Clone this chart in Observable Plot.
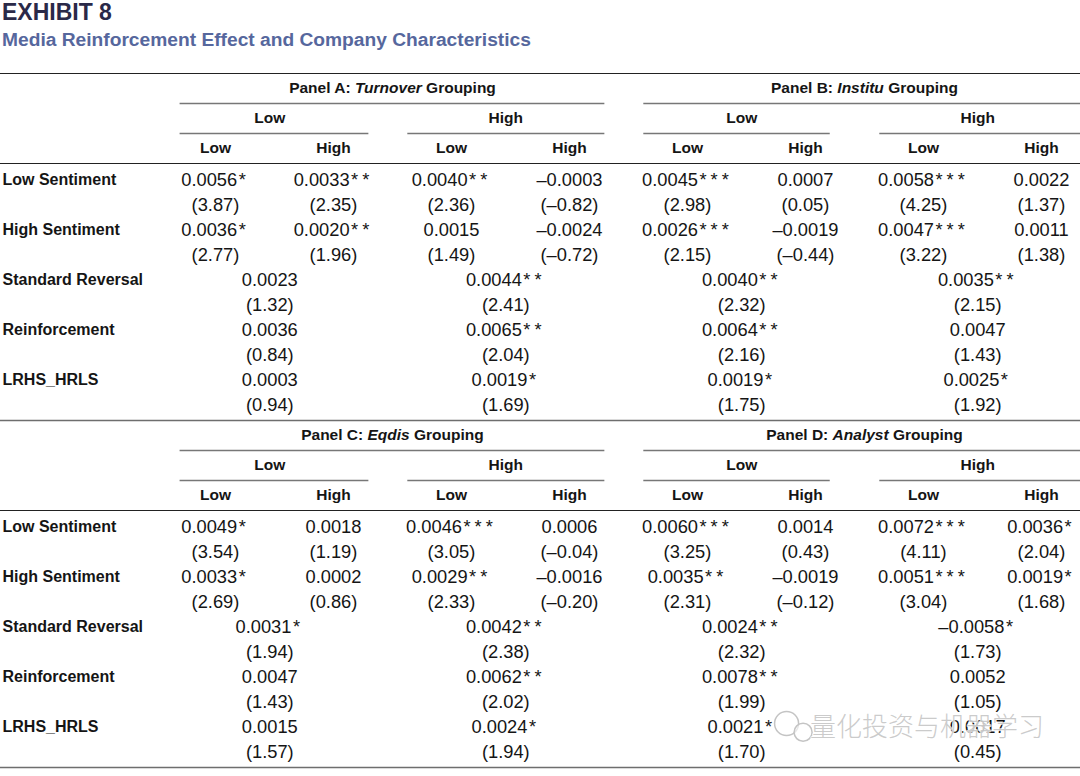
<!DOCTYPE html>
<html>
<head>
<meta charset="utf-8">
<script src="https://cdn.jsdelivr.net/npm/d3@7"></script>
<script src="https://cdn.jsdelivr.net/npm/@observablehq/plot@0.6"></script>
<style>
  body { margin: 0; background: #fff; font-family: "Liberation Sans", Arial, sans-serif; }
  #head { position: relative; height: 62px; width: 1080px; }
  #t1 { position: absolute; left: 2px; top: 0px; font-size: 23px; line-height: 25px; font-weight: bold; color: #2a2948; }
  #t2 { position: absolute; left: 2px; top: 30px; font-size: 19.2px; line-height: 20px; font-weight: bold; color: #56679d; }
  #chart svg { display: block; }
</style>
</head>
<body>
<div id="head">
  <div id="t1">EXHIBIT 8</div>
  <div id="t2">Media Reinforcement Effect and Company Characteristics</div>
</div>
<div id="chart"></div>
<script>
// ---------------- DATA ----------------
const rowLabels = ["Low Sentiment", "High Sentiment", "Standard Reversal", "Reinforcement", "LRHS_HRLS"];
const panelLetters = ["A", "B", "C", "D"];
const panelVars = ["Turnover", "Institu", "Eqdis", "Analyst"];
const groupLabels = ["Low", "High"];
const subLabels = ["Low", "High"];

// columns per panel: [Low-Low, Low-High, High-Low, High-High]
const lowSentCoef = [
  [0.0056, 0.0033, 0.0040, -0.0003],
  [0.0045, 0.0007, 0.0058, 0.0022],
  [0.0049, 0.0018, 0.0046, 0.0006],
  [0.0060, 0.0014, 0.0072, 0.0036]
];
const lowSentStars = [[1, 2, 2, 0], [3, 0, 3, 0], [1, 0, 3, 0], [3, 0, 3, 1]];
const lowSentT = [
  [3.87, 2.35, 2.36, -0.82],
  [2.98, 0.05, 4.25, 1.37],
  [3.54, 1.19, 3.05, -0.04],
  [3.25, 0.43, 4.11, 2.04]
];
const highSentCoef = [
  [0.0036, 0.0020, 0.0015, -0.0024],
  [0.0026, -0.0019, 0.0047, 0.0011],
  [0.0033, 0.0002, 0.0029, -0.0016],
  [0.0035, -0.0019, 0.0051, 0.0019]
];
const highSentStars = [[1, 2, 0, 0], [3, 0, 3, 0], [1, 0, 2, 0], [2, 0, 3, 1]];
const highSentT = [
  [2.77, 1.96, 1.49, -0.72],
  [2.15, -0.44, 3.22, 1.38],
  [2.69, 0.86, 2.33, -0.20],
  [2.31, -0.12, 3.04, 1.68]
];
// merged rows: [Low group, High group]
const reversalCoef = [[0.0023, 0.0044], [0.0040, 0.0035], [0.0031, 0.0042], [0.0024, -0.0058]];
const reversalStars = [[0, 2], [2, 2], [1, 2], [2, 1]];
const reversalT = [[1.32, 2.41], [2.32, 2.15], [1.94, 2.38], [2.32, 1.73]];
const reinfCoef = [[0.0036, 0.0065], [0.0064, 0.0047], [0.0047, 0.0062], [0.0078, 0.0052]];
const reinfStars = [[0, 2], [2, 0], [0, 2], [2, 0]];
const reinfT = [[0.84, 2.04], [2.16, 1.43], [1.43, 2.02], [1.99, 1.05]];
const lrhsCoef = [[0.0003, 0.0019], [0.0019, 0.0025], [0.0015, 0.0024], [0.0021, 0.0017]];
const lrhsStars = [[0, 1], [1, 1], [0, 1], [1, 0]];
const lrhsT = [[0.94, 1.69], [1.75, 1.92], [1.57, 1.94], [1.70, 0.45]];

const watermark = "量化投资与机器学习";

// ---------------- LAYOUT (in table units) ----------------
// x: one unit per data column; y: one unit per data line, header lines 0.6
const xDomain = [-1.822, 7.331];
const slot = { top: 0, panel: 0.6, panelRule: 1.2, group: 1.78, groupRule: 2.4, sub: 3.0, subRule: 3.6 };
const dataStart = 4.27, sectionSpan = 13.88;
const mergedOff = 0.46, groupOff = 0.46;
const yData = (s, line) => s * sectionSpan + dataStart + line;
const ruleFrom = (side, g) => (side === 0 && g === 0) ? -0.30 : -0.37;
const ruleTo = side => side === 0 ? 1.30 : 1.21;

const fmtC = v => d3.format(".4f")(v).replace("−", "–");
const fmtT = v => "(" + d3.format(".2f")(v).replace("−", "–") + ")";
const st = n => "*".repeat(n);

const cells = [], labels = [], panelHeads = [], groupHeads = [], subHeads = [];
const darkRules = [], grayRules = [], partRules = [];

panelLetters.forEach((P, p) => {
  const s = Math.floor(p / 2), side = p % 2, base = side * 4, y0 = s * sectionSpan;
  [[lowSentCoef, lowSentStars, lowSentT], [highSentCoef, highSentStars, highSentT]].forEach(([C, S, T], r) => {
    C[p].forEach((v, c) => {
      cells.push({ x: base + c, y: yData(s, r * 2), text: fmtC(v) + st(S[p][c]) });
      cells.push({ x: base + c, y: yData(s, r * 2 + 1), text: fmtT(T[p][c]) });
    });
  });
  [[reversalCoef, reversalStars, reversalT], [reinfCoef, reinfStars, reinfT], [lrhsCoef, lrhsStars, lrhsT]].forEach(([C, S, T], i) => {
    const r = i + 2;
    C[p].forEach((v, g) => {
      cells.push({ x: base + g * 2 + mergedOff, y: yData(s, r * 2), text: fmtC(v) + st(S[p][g]) });
      cells.push({ x: base + g * 2 + mergedOff, y: yData(s, r * 2 + 1), text: fmtT(T[p][g]) });
    });
  });
  panelHeads.push({ x: base + 1.5, y: y0 + slot.panel, text: `Panel ${P}: ${panelVars[p]} Grouping` });
  partRules.push({ y: y0 + slot.panelRule, x1: base + ruleFrom(side, 0), x2: side === 1 ? xDomain[1] : base + 2 + ruleTo(side) });
  groupLabels.forEach((G, g) => {
    groupHeads.push({ x: base + g * 2 + groupOff, y: y0 + slot.group, text: G });
    partRules.push({ y: y0 + slot.groupRule, x1: base + g * 2 + ruleFrom(side, g), x2: (side === 1 && g === 1) ? xDomain[1] : base + g * 2 + ruleTo(side) });
    subLabels.forEach((L, k) => subHeads.push({ x: base + g * 2 + k, y: y0 + slot.sub, text: L }));
  });
});
[0, 1].forEach(s => {
  rowLabels.forEach((lab, r) => labels.push({ y: yData(s, r * 2), text: lab }));
  darkRules.push({ y: s * sectionSpan + slot.subRule });
});
darkRules.push({ y: 0 });
grayRules.push({ y: sectionSpan }, { y: 2 * sectionSpan });

const ink = "#151515";
const svg = Plot.plot({
  width: 1080,
  height: 714,
  marginTop: 11,
  marginBottom: 9,
  marginLeft: 0,
  marginRight: 0,
  style: { fontFamily: '"Liberation Sans", Arial, sans-serif', background: "#fff" },
  x: { type: "linear", domain: xDomain, axis: null },
  y: { type: "linear", domain: [0, 2 * sectionSpan], reverse: true, axis: null },
  marks: [
    Plot.ruleY(darkRules, { y: "y", stroke: "#222", strokeWidth: 1.1 }),
    Plot.ruleY(grayRules, { y: "y", stroke: "#6e6e6e", strokeWidth: 1.5 }),
    Plot.ruleY(partRules, { y: "y", x1: "x1", x2: "x2", stroke: "#777", strokeWidth: 1.5 }),
    Plot.text(labels, { y: "y", text: "text", frameAnchor: "left", textAnchor: "start", dx: 2, fontSize: 16, fontWeight: "bold", fill: ink }),
    Plot.text(panelHeads, { x: "x", y: "y", text: "text", fontSize: 15.5, fontWeight: "bold", fill: ink }),
    Plot.text(groupHeads, { x: "x", y: "y", text: "text", fontSize: 15.5, fontWeight: "bold", fill: ink }),
    Plot.text(subHeads, { x: "x", y: "y", text: "text", fontSize: 15.5, fontWeight: "bold", fill: ink }),
    Plot.text(cells, { x: "x", y: "y", text: "text", fontSize: 18.3, fill: ink }),
    Plot.dot([{ x: 4.84, y: yData(1, 8) - 0.15 }], { x: "x", y: "y", r: 12, stroke: "#c4c4c4", strokeWidth: 1.5, fill: "white", fillOpacity: 0.6 }),
    Plot.dot([{ x: 4.98, y: yData(1, 8) + 0.2 }], { x: "x", y: "y", r: 9, stroke: "#c4c4c4", strokeWidth: 1.5, fill: "white", fillOpacity: 0.6 }),
    Plot.text([{ x: 6.03, y: yData(1, 8), text: watermark }], { x: "x", y: "y", text: "text", fontSize: 26, fontFamily: '"Noto Sans CJK SC", sans-serif', fontWeight: 300, fill: "#c2c2c2", fillOpacity: 0.85, stroke: "white", strokeWidth: 1.5, strokeOpacity: 0.8, paintOrder: "stroke" })
  ]
});

// styling touches: italic grouping variable, spaced significance stars
d3.select(svg).selectAll("text").each(function () {
  const t = this.textContent;
  let m = t.match(/^Panel ([A-D]): (\S+) Grouping$/);
  const sel = d3.select(this);
  if (m) {
    sel.text(null);
    sel.append("tspan").text(`Panel ${m[1]}: `);
    sel.append("tspan").attr("font-style", "italic").text(m[2]);
    sel.append("tspan").text(" Grouping");
    return;
  }
  m = t.match(/^(.*\d)(\*+)$/);
  if (m) {
    sel.text(null);
    sel.append("tspan").text(m[1]);
    sel.append("tspan").attr("dx", 1.5).attr("letter-spacing", "4px").text(m[2]);
  }
});

document.getElementById("chart").appendChild(svg);
</script>
</body>
</html>
